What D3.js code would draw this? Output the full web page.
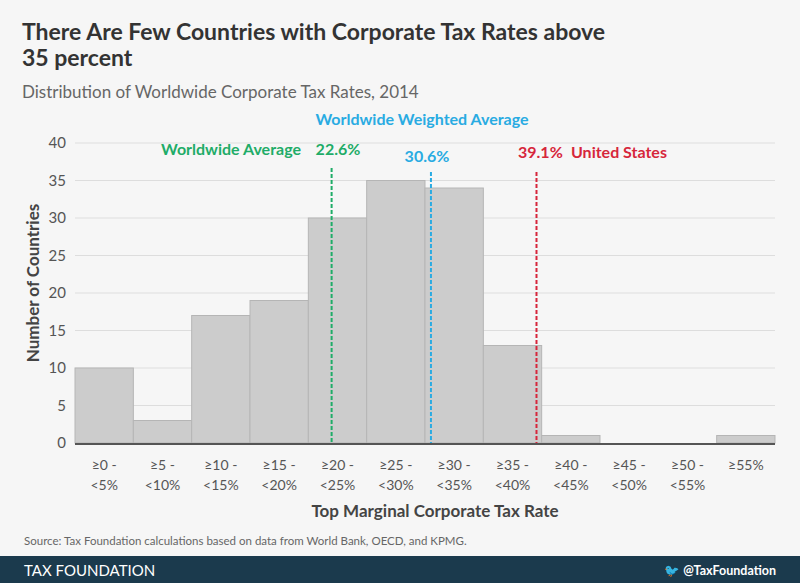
<!DOCTYPE html><html><head><meta charset="utf-8"><script src="https://cdn.jsdelivr.net/npm/d3@7"></script>
<style>body{margin:0;background:#f6f6f6;font-family:Lato,sans-serif}</style></head><body><svg id="c" width="800" height="583"></svg>
<script>
const categories=["≥0 -|<5%","≥5 -|<10%","≥10 -|<15%","≥15 -|<20%","≥20 -|<25%","≥25 -|<30%","≥30 -|<35%","≥35 -|<40%","≥40 -|<45%","≥45 -|<50%","≥50 -|<55%","≥55%"];
const counts=[10,3,17,19,30,35,34,13,1,0,0,1];
const yTicks=[0,5,10,15,20,25,30,35,40];
const markers=[{rate:22.6,color:"#1fac68",top:168},{rate:30.6,color:"#29abe2",top:172},{rate:39.1,color:"#d6263b",top:172}];
const svg=d3.select("#c");
svg.append("rect").attr("width",800).attr("height",583).attr("fill","#f6f6f6");
const x=d3.scaleBand().domain(categories).range([75,775]).padding(0);
const y=d3.scaleLinear().domain([0,40]).range([443,143]);
const xr=d3.scaleLinear().domain([0,60]).range([51,796]);
svg.append("text").attr("x",22).attr("y",40).attr("font-size",23).attr("font-weight",700).attr("fill","#333").text("There Are Few Countries with Corporate Tax Rates above");
svg.append("text").attr("x",22).attr("y",66).attr("font-size",23).attr("font-weight",700).attr("fill","#333").text("35 percent");
svg.append("text").attr("x",22).attr("y",98).attr("font-size",17).attr("fill","#666").text("Distribution of Worldwide Corporate Tax Rates, 2014");
yTicks.forEach(t=>{
 if(t>0)svg.append("line").attr("x1",75).attr("x2",775).attr("y1",y(t)).attr("y2",y(t)).attr("stroke","#ddd").attr("stroke-width",1.2);
 svg.append("text").attr("x",66).attr("y",y(t)+5).attr("text-anchor","end").attr("font-size",15).attr("fill","#555").text(t);
});
svg.selectAll(".b").data(counts).join("rect").attr("x",(d,i)=>x(categories[i])).attr("width",x.bandwidth())
 .attr("y",d=>y(d)).attr("height",d=>y(0)-y(d)).attr("fill","#cccccc").attr("stroke","#b5b5b5").attr("stroke-width",1);
svg.append("line").attr("x1",75).attr("x2",775).attr("y1",y(0)+1).attr("y2",y(0)+1).attr("stroke","#555").attr("stroke-width",2);
markers.forEach(m=>svg.append("line").attr("x1",xr(m.rate)).attr("x2",xr(m.rate)).attr("y1",m.top).attr("y2",y(0)).attr("stroke",m.color).attr("stroke-width",2).attr("stroke-dasharray","4,2"));
const lab=(t,xx,yy,c,a)=>svg.append("text").attr("x",xx).attr("y",yy).attr("font-size",16).attr("font-weight",700).attr("fill",c).attr("text-anchor",a||"start").text(t);
lab("Worldwide Weighted Average",422,125,"#29abe2","middle");
lab("Worldwide Average",301,155,"#1fac68","end");
lab("22.6%",338,155,"#1fac68","middle");
lab("30.6%",427,162,"#29abe2","middle");
lab("39.1%",518,158,"#d6263b");
lab("United States",571,158,"#d6263b");
categories.forEach(c=>{const p=c.split("|");p.forEach((s,k)=>svg.append("text").attr("x",x(c)+x.bandwidth()/2).attr("y",470+k*20).attr("text-anchor","middle").attr("font-size",14).attr("fill","#555").text(s));});
svg.append("text").attr("x",435).attr("y",517).attr("text-anchor","middle").attr("font-size",17).attr("font-weight",700).attr("fill","#444").text("Top Marginal Corporate Tax Rate");
svg.append("text").attr("transform","translate(39,283) rotate(-90)").attr("text-anchor","middle").attr("font-size",17).attr("font-weight",700).attr("fill","#444").text("Number of Countries");
svg.append("text").attr("x",24).attr("y",545).attr("font-size",11.5).attr("fill","#666").text("Source: Tax Foundation calculations based on data from World Bank, OECD, and KPMG.");
svg.append("rect").attr("y",556).attr("width",800).attr("height",27).attr("fill","#1b3a4d");
svg.append("text").attr("x",24).attr("y",576).attr("font-size",15).attr("fill","#fff").text("TAX FOUNDATION");
svg.append("text").attr("x",776).attr("y",575).attr("text-anchor","end").attr("font-size",12.5).attr("font-weight",700).attr("fill","#fff").text("🐦 @TaxFoundation");
</script></body></html>
